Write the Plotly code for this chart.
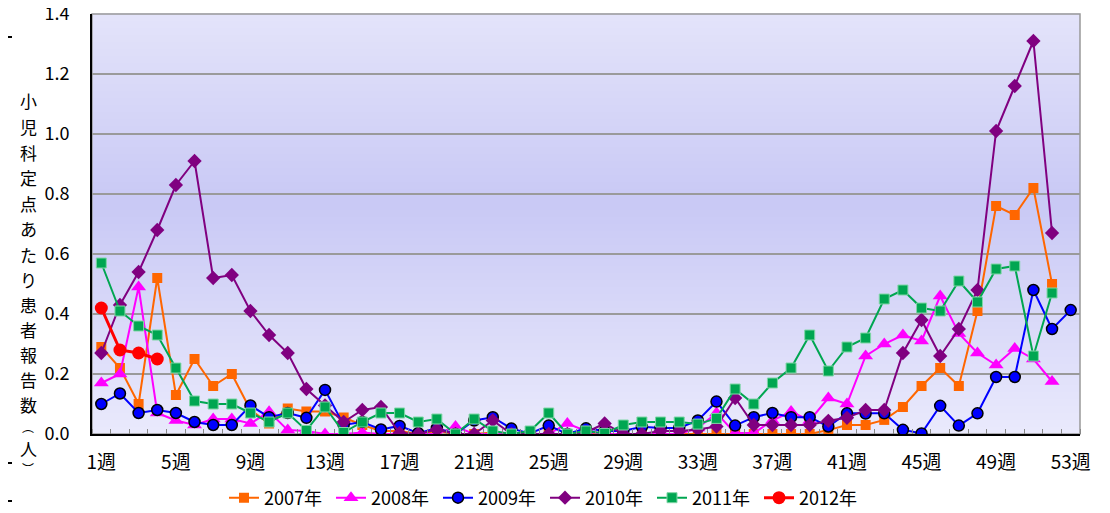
import plotly.graph_objects as go

weeks = list(range(1, 54))
tick_weeks = [1, 5, 9, 13, 17, 21, 25, 29, 33, 37, 41, 45, 49, 53]
tick_labels = [f"{w}週" for w in tick_weeks]
y_ticks = [0.0, 0.2, 0.4, 0.6, 0.8, 1.0, 1.2, 1.4]

y2007 = [0.29, 0.22, 0.10, 0.52, 0.13, 0.25, 0.16, 0.20, 0.08, 0.035,
         0.085, 0.075, 0.075, 0.055, 0.03, 0.01, 0.01, 0.0, 0.01, 0.0,
         0.0, 0.005, 0.0, 0.0, 0.0, 0.0, 0.0, 0.0, 0.0, 0.0,
         0.0, 0.0, 0.0, 0.0, 0.0, 0.0, 0.0, 0.0, 0.0, 0.013,
         0.03, 0.03, 0.047, 0.09, 0.16, 0.22, 0.16, 0.41, 0.76, 0.73,
         0.82, 0.50]
y2008 = [0.17, 0.20, 0.49, 0.07, 0.045, 0.03, 0.05, 0.05, 0.035, 0.074,
         0.013, 0.01, 0.0, 0.0, 0.005, 0.0, 0.0, 0.0, 0.0, 0.025,
         0.0, 0.0, 0.0, 0.0, 0.0, 0.035, 0.01, 0.0, 0.0, 0.0,
         0.0, 0.0, 0.02, 0.07, 0.003, 0.003, 0.045, 0.075, 0.045, 0.12,
         0.10, 0.26, 0.30, 0.33, 0.31, 0.46, 0.335, 0.27, 0.23, 0.285,
         0.25, 0.175]
y2009 = [0.10, 0.135, 0.07, 0.08, 0.07, 0.04, 0.03, 0.03, 0.095, 0.056,
         0.07, 0.054, 0.147, 0.03, 0.04, 0.015, 0.027, 0.003, 0.02, 0.0,
         0.045, 0.056, 0.018, 0.002, 0.028, 0.0, 0.019, 0.01, 0.01, 0.024,
         0.02, 0.02, 0.045, 0.108, 0.028, 0.056, 0.07, 0.056, 0.056, 0.025,
         0.069, 0.068, 0.069, 0.014, 0.002, 0.094, 0.028, 0.069, 0.19, 0.19,
         0.48, 0.35, 0.413]
y2010 = [0.27, 0.43, 0.54, 0.68, 0.83, 0.91, 0.52, 0.53, 0.41, 0.33,
         0.27, 0.15, 0.095, 0.04, 0.08, 0.09, 0.003, 0.0, 0.015, 0.0,
         0.0, 0.045, 0.0, 0.0, 0.0, 0.0, 0.005, 0.035, 0.0, 0.0,
         0.01, 0.01, 0.015, 0.025, 0.12, 0.03, 0.03, 0.03, 0.03, 0.044,
         0.054, 0.08, 0.08, 0.27, 0.38, 0.26, 0.35, 0.48, 1.01, 1.16,
         1.31, 0.67]
y2011 = [0.57, 0.41, 0.36, 0.33, 0.22, 0.11, 0.10, 0.10, 0.07, 0.04,
         0.07, 0.012, 0.09, 0.005, 0.04, 0.07, 0.07, 0.04, 0.05, 0.0,
         0.05, 0.01, 0.0, 0.01, 0.07, 0.0, 0.01, 0.002, 0.03, 0.04,
         0.04, 0.04, 0.033, 0.052, 0.15, 0.10, 0.17, 0.22, 0.33, 0.21,
         0.29, 0.32, 0.45, 0.48, 0.42, 0.41, 0.51, 0.44, 0.55, 0.56,
         0.26, 0.47]
y2012 = [0.42, 0.28, 0.27, 0.25]

title_chars = list("小児科定点あたり患者報告数") + ["︵", "人", "︶"]

series = [
    ("2007年", y2007, "#FF6600", dict(symbol="square", size=10)),
    ("2008年", y2008, "#FF00FF", dict(symbol="triangle-up", size=13)),
    ("2009年", y2009, "#0000FF", dict(symbol="circle", size=11, line=dict(color="black", width=1.5))),
    ("2010年", y2010, "#800080", dict(symbol="diamond", size=11)),
    ("2011年", y2011, "#00A651", dict(symbol="square", size=10, line=dict(color="#7fd6a6", width=1))),
    ("2012年", y2012, "#FF0000", dict(symbol="circle", size=13)),
]

fig = go.Figure()
for name, vals, color, mk in series:
    mk = dict(mk)
    mk["color"] = color
    fig.add_trace(go.Scatter(
        x=weeks[:len(vals)], y=vals, name=name, mode="lines+markers",
        line=dict(color=color, width=3 if name == "2012年" else 2),
        marker=mk,
    ))

# The page body adds an 8px offset; the figure is sized to fit inside it.
OFF = 8
W, H = 1110 - OFF, 513 - OFF
# plot area in screen pixels: x 92..1080, y 14..434
L, R, T, B = 92 - OFF, W - (1080 - OFF), 14 - OFF, H - (434 - OFF)
PW = W - L - R
PH = H - T - B


def px_x(sx):
    return (sx - OFF - L) / PW


def px_y(sy):
    return (T + PH - (sy - OFF)) / PH


def lerp(a, b, t):
    return tuple(int(round(a[i] + (b[i] - a[i]) * t)) for i in range(3))


top_c = (228, 228, 250)
mid_c = (200, 200, 245)
bot_c = (234, 234, 252)
shapes = []
N = 60
for i in range(N):
    y0 = i / N
    y1 = (i + 1) / N
    yc = (y0 + y1) / 2
    if yc > 0.55:
        c = lerp(mid_c, top_c, (yc - 0.55) / 0.45)
    else:
        c = lerp(bot_c, mid_c, yc / 0.55)
    shapes.append(dict(type="rect", xref="x domain", yref="y domain",
                       x0=0, x1=1, y0=y0, y1=y1 + 0.002, layer="below",
                       line=dict(width=0), fillcolor="rgb(%d,%d,%d)" % c))
shapes.append(dict(type="rect", xref="x domain", yref="y domain",
                   x0=0, x1=1, y0=0, y1=1, layer="below",
                   line=dict(color="#999999", width=1.5), fillcolor="rgba(0,0,0,0)"))
# small dashes at the left edge
for yy in [37, 463, 501]:
    shapes.append(dict(type="line", xref="paper", yref="paper",
                       x0=px_x(OFF), x1=px_x(OFF + 4),
                       y0=px_y(yy), y1=px_y(yy),
                       line=dict(color="black", width=2)))

# vertical y-axis title, one character per annotation
title_y = [100, 126, 152, 178, 204, 229, 254, 279, 304, 329, 354, 379, 404, 426, 448, 469]
annotations = []
for ch, yy in zip(title_chars, title_y):
    small = ch in ("︵", "︶")
    annotations.append(dict(
        text=ch, xref="paper", yref="paper",
        x=px_x(28), y=px_y(yy),
        xanchor="center", yanchor="middle", showarrow=False,
        font=dict(size=12 if small else 17, family="Noto Sans CJK JP", color="black"),
    ))

font_family = "Liberation Sans Narrow, Noto Sans CJK JP, sans-serif"

fig.update_layout(
    width=W, height=H,
    margin=dict(l=L, r=R, t=T, b=B, autoexpand=False),
    paper_bgcolor="white",
    plot_bgcolor="rgba(0,0,0,0)",
    shapes=shapes,
    annotations=annotations,
    font=dict(family=font_family, size=18, color="black"),
    showlegend=True,
    legend=dict(orientation="h", xref="container", yref="container",
                x=(224 - OFF) / W, y=(513 - 498) / H, xanchor="left", yanchor="middle",
                font=dict(size=18, family=font_family),
                entrywidth=62, entrywidthmode="pixels",
                bgcolor="rgba(0,0,0,0)", tracegroupgap=0),
    xaxis=dict(
        range=[0.5, 53.5], tickmode="array", tickvals=tick_weeks, ticktext=tick_labels,
        ticks="", showgrid=False, zeroline=False, automargin=False,
        showline=True, linecolor="black", linewidth=2,
        tickfont=dict(size=19), ticklabelstandoff=10,
        minor=dict(tickmode="linear", tick0=0.5, dtick=1, ticks="inside",
                   ticklen=5, tickcolor="#888888", showgrid=False),
    ),
    yaxis=dict(
        range=[0, 1.4], tickmode="array", tickvals=y_ticks,
        ticktext=[f"{v:.1f}" for v in y_ticks],
        ticks="", showgrid=True, gridcolor="#9a9a9a", gridwidth=1.5,
        zeroline=False, showline=True, linecolor="black", linewidth=2,
        automargin=False, ticklabeloverflow="allow",
        tickfont=dict(size=18), ticklabelstandoff=17,
    ),
)

fig.write_html("out.html")
